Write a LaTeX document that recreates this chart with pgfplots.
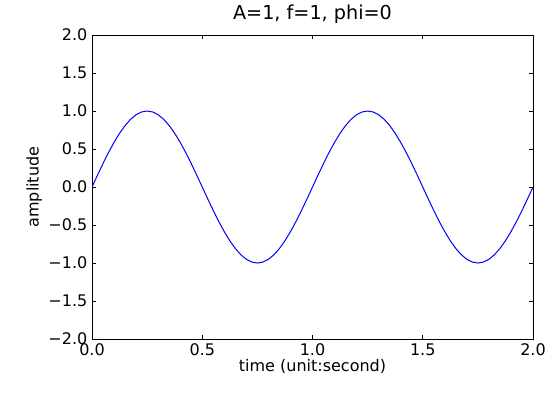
\documentclass[border=0pt]{standalone}
\usepackage{pgfplots}
\pgfplotsset{compat=1.18}
\usepackage{fontspec}
\setmainfont{DejaVu Sans}
\begin{document}
\begin{tikzpicture}
\begin{axis}[
  scale only axis,
  width=330.75pt, height=228pt,
  xmin=0, xmax=2, ymin=-2, ymax=2,
  xtick={0,0.5,1,1.5,2},
  xticklabels={0.0,0.5,1.0,1.5,2.0},
  ytick={-2,-1.5,-1,-0.5,0,0.5,1,1.5,2},
  yticklabels={−2.0,−1.5,−1.0,−0.5,0.0,0.5,1.0,1.5,2.0},
  tick align=inside,
  major tick length=3pt,
  tick style={black, line width=0.5pt},
  axis line style={black, line width=0.75pt},
  ticklabel style={font=\fontsize{12}{14}\selectfont},
  xticklabel style={anchor=base, yshift=-12pt},
  label style={font=\fontsize{12}{14}\selectfont},
  title style={font=\fontsize{14.4}{17}\selectfont, at={(0.5,1)}, anchor=base, yshift=6pt},
  title={A=1, f=1, phi=0},
  xlabel={time (unit:second)},
  ylabel={amplitude},
  xlabel style={at={(axis description cs:0.5,0)}, anchor=base, yshift=-24pt},
  ylabel style={at={(axis description cs:-0.121,0.5)}, anchor=base},
]
\addplot[blue, line width=0.75pt] coordinates {
(0,0) (0.025,0.15643) (0.05,0.30902) (0.075,0.45399) (0.1,0.58779) (0.125,0.70711) (0.15,0.80902) (0.175,0.89101) (0.2,0.95106) (0.225,0.98769)
(0.25,1) (0.275,0.98769) (0.3,0.95106) (0.325,0.89101) (0.35,0.80902) (0.375,0.70711) (0.4,0.58779) (0.425,0.45399) (0.45,0.30902) (0.475,0.15643)
(0.5,0) (0.525,-0.15643) (0.55,-0.30902) (0.575,-0.45399) (0.6,-0.58779) (0.625,-0.70711) (0.65,-0.80902) (0.675,-0.89101) (0.7,-0.95106) (0.725,-0.98769)
(0.75,-1) (0.775,-0.98769) (0.8,-0.95106) (0.825,-0.89101) (0.85,-0.80902) (0.875,-0.70711) (0.9,-0.58779) (0.925,-0.45399) (0.95,-0.30902) (0.975,-0.15643)
(1,0) (1.025,0.15643) (1.05,0.30902) (1.075,0.45399) (1.1,0.58779) (1.125,0.70711) (1.15,0.80902) (1.175,0.89101) (1.2,0.95106) (1.225,0.98769)
(1.25,1) (1.275,0.98769) (1.3,0.95106) (1.325,0.89101) (1.35,0.80902) (1.375,0.70711) (1.4,0.58779) (1.425,0.45399) (1.45,0.30902) (1.475,0.15643)
(1.5,0) (1.525,-0.15643) (1.55,-0.30902) (1.575,-0.45399) (1.6,-0.58779) (1.625,-0.70711) (1.65,-0.80902) (1.675,-0.89101) (1.7,-0.95106) (1.725,-0.98769)
(1.75,-1) (1.775,-0.98769) (1.8,-0.95106) (1.825,-0.89101) (1.85,-0.80902) (1.875,-0.70711) (1.9,-0.58779) (1.925,-0.45399) (1.95,-0.30902) (1.975,-0.15643)
(2,0)
};
\end{axis}
\useasboundingbox ([shift={(-69pt,-41.25pt)}]current axis.south west) rectangle ([shift={(19.5pt,24.75pt)}]current axis.north east);
\end{tikzpicture}
\end{document}
